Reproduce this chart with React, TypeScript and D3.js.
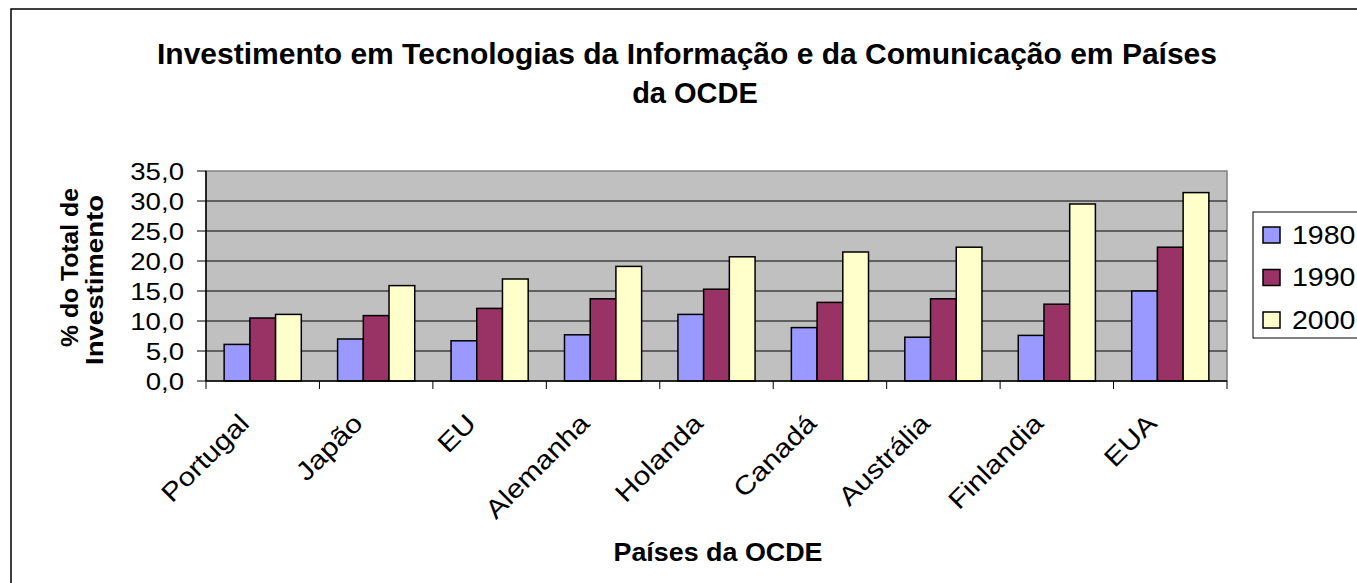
import React from 'react';
import * as d3 from 'd3';

const countries = ['Portugal', 'Japão', 'EU', 'Alemanha', 'Holanda', 'Canadá', 'Austrália', 'Finlandia', 'EUA'];
const years = ['1980', '1990', '2000'];
const values1980 = [6.1, 7.0, 6.7, 7.7, 11.1, 8.9, 7.3, 7.6, 15.0];
const values1990 = [10.5, 10.9, 12.1, 13.7, 15.3, 13.1, 13.7, 12.8, 22.3];
const values2000 = [11.1, 15.9, 17.0, 19.1, 20.7, 21.5, 22.3, 29.5, 31.4];
const yTicks = [0, 5, 10, 15, 20, 25, 30, 35];
const colors = ['#9999FF', '#993366', '#FFFFCC'];

const FONT = 'Liberation Sans, Arial, sans-serif';

const App = () => {
  const width = 1357;
  const height = 583;
  const plot = { left: 206, right: 1227, top: 171, bottom: 381 };

  const series = [values1980, values1990, values2000];

  const x0 = d3
    .scaleBand()
    .domain(countries)
    .range([plot.left, plot.right])
    .paddingInner(0.32)
    .paddingOuter(0.16);

  const x1 = d3.scaleBand().domain(years).range([0, x0.bandwidth()]);

  const y = d3.scaleLinear().domain([0, 35]).range([plot.bottom, plot.top]);

  const step = x0.step();
  const boundaries = d3.range(countries.length + 1).map(i => plot.left + i * step);

  const fmt = (v: number) => v.toFixed(1).replace('.', ',');

  return (
    <svg
      width={width}
      height={height}
      style={{ position: 'absolute', left: 0, top: 0, background: '#fff' }}
      fontFamily={FONT}
    >
      {/* chart border */}
      <rect x={11} y={9} width={1400} height={600} fill="#fff" stroke="#000" strokeWidth={1.5} />

      {/* title */}
      <text x={687} y={64} textAnchor="middle" fontSize={29} fontWeight="bold" textLength={1060} lengthAdjust="spacingAndGlyphs">
        Investimento em Tecnologias da Informação e da Comunicação em Países
      </text>
      <text x={695} y={103} textAnchor="middle" fontSize={29} fontWeight="bold">
        da OCDE
      </text>

      {/* plot area */}
      <rect
        x={plot.left}
        y={plot.top}
        width={plot.right - plot.left}
        height={plot.bottom - plot.top}
        fill="#C0C0C0"
        stroke="#808080"
        strokeWidth={1.5}
      />

      {/* gridlines */}
      {yTicks.filter(t => t > 0 && t < 35).map(t => (
        <line key={t} x1={plot.left} x2={plot.right} y1={y(t)} y2={y(t)} stroke="#000" strokeWidth={1} />
      ))}

      {/* bars */}
      {countries.map((c, i) => (
        <g key={c} transform={`translate(${x0(c)},0)`}>
          {years.map((yr, j) => (
            <rect
              key={yr}
              x={x1(yr)}
              y={y(series[j][i])}
              width={x1.bandwidth()}
              height={plot.bottom - y(series[j][i])}
              fill={colors[j]}
              stroke="#000"
              strokeWidth={1.5}
            />
          ))}
        </g>
      ))}

      {/* y axis */}
      <line x1={plot.left} x2={plot.left} y1={plot.top} y2={plot.bottom} stroke="#000" strokeWidth={1.5} />
      {yTicks.map(t => (
        <g key={t}>
          <line x1={plot.left - 9} x2={plot.left} y1={y(t)} y2={y(t)} stroke="#000" strokeWidth={1} />
          <text
            transform={`translate(184,${y(t)}) scale(1.15,1)`}
            textAnchor="end"
            dy="0.36em"
            fontSize={24}
          >
            {fmt(t)}
          </text>
        </g>
      ))}

      {/* x axis */}
      <line x1={plot.left} x2={plot.right} y1={plot.bottom} y2={plot.bottom} stroke="#000" strokeWidth={1.5} />
      {boundaries.map((b, i) => (
        <line key={i} x1={b} x2={b} y1={plot.bottom} y2={plot.bottom + 8} stroke="#000" strokeWidth={1} />
      ))}
      {countries.map(c => (
        <text
          key={c}
          transform={`translate(${(x0(c) as number) + x0.bandwidth() / 2 - 12},425) rotate(-45) scale(1.15,1)`}
          textAnchor="end"
          fontSize={26}
        >
          {c}
        </text>
      ))}

      {/* axis titles */}
      <text
        transform="translate(78,267.5) rotate(-90)"
        textAnchor="middle"
        fontSize={24}
        fontWeight="bold"
        textLength={159}
        lengthAdjust="spacingAndGlyphs"
      >
        % do Total de
      </text>
      <text
        transform="translate(103,280) rotate(-90)"
        textAnchor="middle"
        fontSize={24}
        fontWeight="bold"
        textLength={170}
        lengthAdjust="spacingAndGlyphs"
      >
        Investimento
      </text>
      <text x={718} y={561} textAnchor="middle" fontSize={25} fontWeight="bold" textLength={209} lengthAdjust="spacingAndGlyphs">
        Países da OCDE
      </text>

      {/* legend */}
      <rect x={1253} y={212} width={200} height={126} fill="#fff" stroke="#000" strokeWidth={1} />
      {years.map((yr, j) => {
        const cy = 235 + j * 42.5;
        return (
          <g key={yr}>
            <rect x={1263} y={cy - 8} width={17} height={16} fill={colors[j]} stroke="#000" strokeWidth={1.5} />
            <text transform={`translate(1292,${cy + 8.5}) scale(1.14,1)`} fontSize={25}>
              {yr}
            </text>
          </g>
        );
      })}
    </svg>
  );
};

export default App;
